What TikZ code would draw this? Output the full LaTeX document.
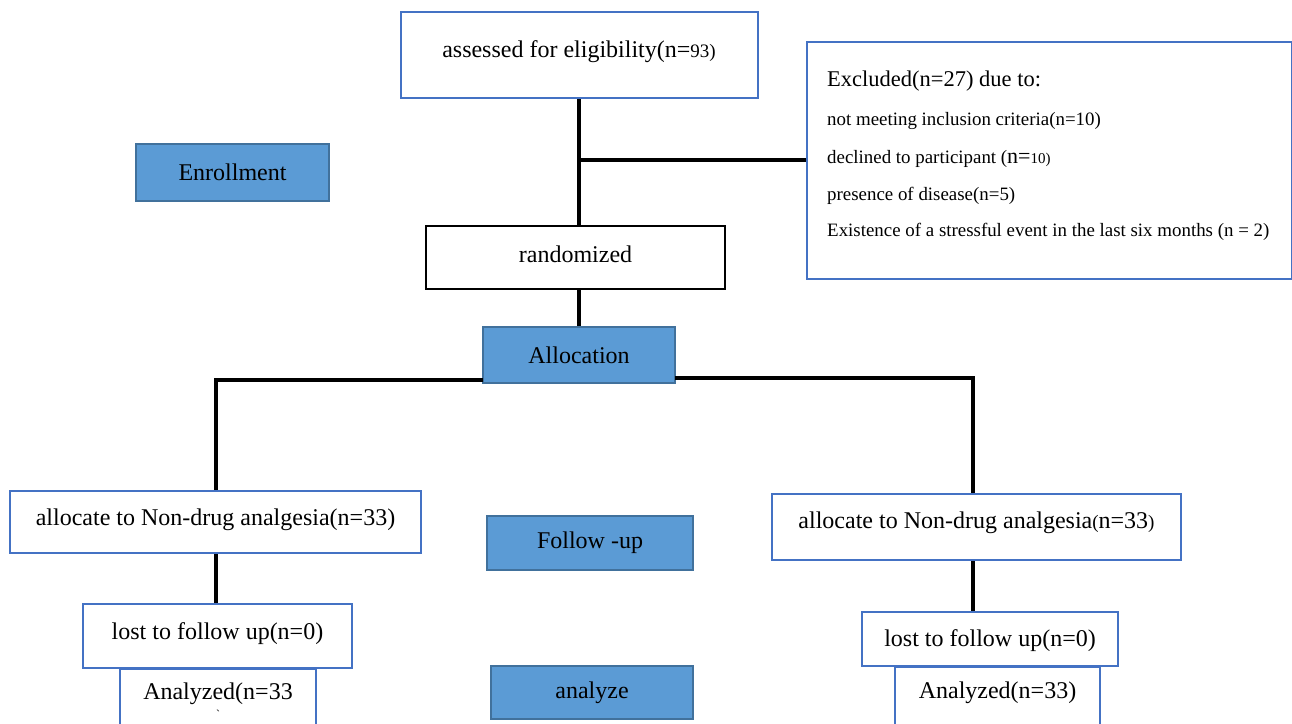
\documentclass[tikz,border=0pt]{standalone}
\usepackage{fontspec}
\setmainfont{Liberation Serif}
\definecolor{bfill}{HTML}{5B9BD5}
\definecolor{bline}{HTML}{41719C}
\definecolor{wline}{HTML}{4472C4}
\begin{document}
\begin{tikzpicture}[x=1pt,y=-1pt,
  txt/.style={font=\fontsize{24}{28}\selectfont, inner sep=0pt},
  small/.style={font=\fontsize{18.9}{22}\selectfont, inner sep=0pt, anchor=west},
  wbox/.style={txt, draw=wline, line width=2.2pt, fill=white},
  kbox/.style={txt, draw=black, line width=2pt, fill=white},
  bbox/.style={txt, draw=bline, line width=2pt, fill=bfill},
  conn/.style={line width=4pt, black}]
\useasboundingbox (0,0) rectangle (1292,723);
\clip (0,0) rectangle (1292,723);
% boxes
\node[wbox, minimum width=357, minimum height=86] (assess) at (579.5,55) {};
\node[txt] (assesst) at (579,52) {assessed for eligibility(n={\fontsize{19}{22}\selectfont 93)}};
\node[wbox, minimum width=485, minimum height=237, anchor=north west] (excl) at (806,41) {};
\node[txt, font=\fontsize{22.5}{26}\selectfont, anchor=west] (ex0) at (827,81) {Excluded(n=27) due to:};
\node[small] (ex1) at (827,121) {not meeting inclusion criteria(n=10)};
\node[small] (ex2) at (827,159) {declined to participant ({\fontsize{22}{26}\selectfont n=}{\fontsize{15}{18}\selectfont 10)}};
\node[small] (ex3) at (827,196) {presence of disease(n=5)};
\node[small] (ex4) at (827,232) {Existence of a stressful event in the last six months (n = 2)};
\node[bbox, minimum width=193, minimum height=57] (enroll) at (232.5,172.5) {Enrollment};
\node[kbox, minimum width=299, minimum height=63] (rand) at (575.5,257.5) {};
\node[txt] (randt) at (575.5,254) {randomized};
\node[bbox, minimum width=192, minimum height=56] (alloc) at (579,355) {Allocation};
\node[wbox, minimum width=411, minimum height=62] (lalloc) at (215.5,522) {};
\node[txt] (lallt) at (215.5,520) {allocate to Non-drug analgesia(n=33)};
\node[bbox, minimum width=206, minimum height=54] (follow) at (590,543) {Follow -up};
\node[wbox, minimum width=409, minimum height=66] (ralloc) at (976.5,527) {};
\node[txt] (rallt) at (976.5,523) {allocate to Non-drug analgesia{\fontsize{19}{22}\selectfont(}n=33{\fontsize{19}{22}\selectfont)}};
\node[wbox, minimum width=269, minimum height=64] (llost) at (217.5,636) {};
\node[txt] (llostt) at (217.5,634) {lost to follow up(n=0)};
\node[wbox, minimum width=196, minimum height=80, anchor=north] (lana) at (218,668) {};
\node[txt] (lanat) at (218,694) {Analyzed(n=33};
\node[txt, font=\fontsize{12}{13}\selectfont] (lanab) at (218,714.5) {\textasciigrave};
\node[bbox, minimum width=202, minimum height=53] (analyze) at (592,692.5) {analyze};
\node[wbox, minimum width=256, minimum height=54] (rlost) at (990,639) {};
\node[txt] (rlostt) at (990,641) {lost to follow up(n=0)};
\node[wbox, minimum width=205, minimum height=66, anchor=north] (rana) at (997.5,666) {};
\node[txt] (ranat) at (997.5,693) {Analyzed(n=33)};
% connectors
\coordinate (j) at (579,160);
\coordinate (la) at (483,380);
\coordinate (ra) at (675,378);
\coordinate (rx) at (973,0);
\coordinate (lx) at (216,0);
\draw[conn] (assess.south -| j) -- (rand.north -| j);
\draw[conn] (j) -- (j -| excl.west);
\draw[conn] (rand.south -| alloc.north) -- (alloc.north);
\draw[conn] (la) -- (la -| lx) -- (lalloc.north -| lx);
\draw[conn] (ra) -- (ra -| rx) -- (ralloc.north -| rx);
\draw[conn] (lalloc.south -| lx) -- (llost.north -| lx);
\draw[conn] (ralloc.south -| rx) -- (rlost.north -| rx);
\end{tikzpicture}
\end{document}
